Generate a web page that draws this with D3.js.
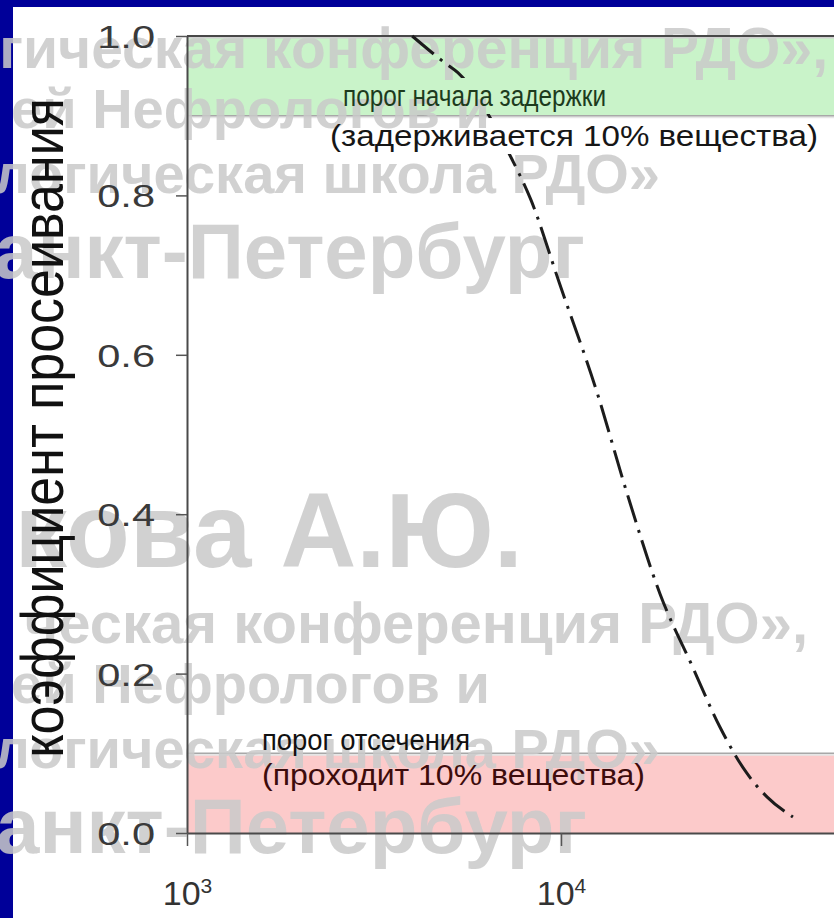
<!DOCTYPE html>
<html>
<head>
<meta charset="utf-8">
<script src="https://cdn.jsdelivr.net/npm/d3@7"></script>
<style>
  html, body { margin: 0; padding: 0; background: #fff; }
  svg { display: block; }
</style>
</head>
<body>
<svg id="chart" width="834" height="918"></svg>
<script>
// Sieving coefficient vs molecular mass (log scale)
const moleculeMass = [4000, 4900, 5300, 7400, 8300, 9900, 12500, 15000, 18400, 22500, 26600, 31400, 35600, 41700];
const sievingCoef  = [1.0, 0.966, 0.954, 0.845, 0.795, 0.69, 0.552, 0.427, 0.30, 0.208, 0.133, 0.075, 0.045, 0.02];

const yTicks = [0, 0.2, 0.4, 0.6, 0.8, 1.0];
const xTicks = [1e3, 1e4];

// threshold zones: retention onset (top) and cut-off (bottom)
const zoneLow  = [0.9, 0.0];
const zoneHigh = [1.0, 0.1];
const retentionLabel = ["порог начала задержки", "(задерживается 10% вещества)"];
const cutoffLabel    = ["порог отсечения", "(проходит 10% вещества)"];
const yTitle = "коэффициент просеивания";

// faint stamp text across the slide
const stampLines = [
  "гическая конференция РДО»,",
  "ей Нефрологов и",
  "логическая школа РДО»",
  "анкт-Петербург",
  "кова А.Ю.",
  "ческая конференция РДО»,",
  "ей Нефрологов и",
  "логическая школа РДО»",
  "анкт-Петербург"
];

// ---- layout ----
const W = 834, H = 918;
const frame = { left: 187, top: 36, bottom: 833, decade: 374 };
const FONT = "'Liberation Sans', Arial, Helvetica, sans-serif";

const svg = d3.select("#chart");
const x = d3.scaleLog().domain([1e3, 1e5]).range([frame.left, frame.left + 2 * frame.decade]);
const y = d3.scaleLinear().domain([0, 1]).range([frame.bottom, frame.top]);

// slide background with blue border
svg.append("rect").attr("width", W).attr("height", H).attr("fill", "#000099");
svg.append("rect").attr("x", 13).attr("y", 7).attr("width", W - 13).attr("height", H - 7).attr("fill", "#ffffff");

const gZones = svg.append("g");
const gStamp = svg.append("g");
const gAxes = svg.append("g");
const gCurve = svg.append("g");
const gLabels = svg.append("g");
const defs = svg.append("defs");

// zones
const zoneFill = ["#c9f3c9", "#fccaca"];
zoneLow.forEach((lo, i) => {
  const hi = zoneHigh[i];
  gZones.append("rect")
    .attr("x", frame.left).attr("width", W - frame.left)
    .attr("y", y(hi)).attr("height", y(lo) - y(hi))
    .attr("fill", zoneFill[i]);
  const edge = i === 0 ? lo : hi;
  gZones.append("line")
    .attr("x1", frame.left).attr("x2", W)
    .attr("y1", y(edge) + 1.5).attr("y2", y(edge) + 1.5)
    .attr("stroke", "#e6e6e6").attr("stroke-width", 2);
  gZones.append("line")
    .attr("x1", frame.left).attr("x2", W)
    .attr("y1", y(edge)).attr("y2", y(edge))
    .attr("stroke", "#a8a8a8").attr("stroke-width", 1.5);
});

// stamp text
const stampLayout = [
  [828, 68, 57], [490, 128, 56], [660, 193, 56], [585, 278, 78], [523, 567, 105],
  [808, 643, 58], [490, 703, 56], [660, 768, 56], [587, 853, 78]
];
gStamp.attr("fill", "#cacaca").attr("opacity", 0.85)
  .attr("font-family", FONT).attr("font-weight", "bold");
stampLines.forEach((t, i) => {
  const [ex, by, fs] = stampLayout[i];
  gStamp.append("text").attr("x", ex).attr("y", by)
    .attr("text-anchor", "end").attr("font-size", fs).text(t);
});

// frame top edge
gAxes.append("line")
  .attr("x1", frame.left).attr("x2", W)
  .attr("y1", y(1) + 1.5).attr("y2", y(1) + 1.5)
  .attr("stroke", "#d0d0d0").attr("stroke-width", 2);
gAxes.append("line")
  .attr("x1", frame.left).attr("x2", W)
  .attr("y1", y(1)).attr("y2", y(1))
  .attr("stroke", "#484848").attr("stroke-width", 2);

// y axis
const yAxis = gAxes.append("g")
  .attr("transform", `translate(${frame.left},0)`)
  .call(d3.axisLeft(y).tickValues(yTicks).tickFormat(d3.format(".1f"))
    .tickSize(11).tickSizeOuter(0).tickPadding(13.6));
yAxis.select(".domain").attr("stroke", "#4a4a4a").attr("stroke-width", 2);
yAxis.selectAll(".tick line").attr("stroke", "#555").attr("stroke-width", 1.5);
yAxis.selectAll(".tick text")
  .attr("font-family", FONT).attr("font-size", 32).attr("fill", "#3a3a3a")
  .attr("dy", "0.36em").attr("transform", "scale(1.3,1)");

// x axis (log)
const xAxis = gAxes.append("g")
  .attr("transform", `translate(0,${frame.bottom})`)
  .call(d3.axisBottom(x).tickValues(xTicks).tickFormat(() => "")
    .tickSize(13).tickSizeOuter(0));
xAxis.select(".domain").attr("stroke", "#4a4a4a").attr("stroke-width", 2);
xAxis.selectAll(".tick line").attr("stroke", "#555").attr("stroke-width", 1.5);
xAxis.selectAll(".tick text").each(function (d) {
  const t = d3.select(this).text(null)
    .attr("y", 72).attr("dy", 0)
    .attr("font-family", FONT).attr("fill", "#333").attr("font-size", 34);
  t.append("tspan").text("10");
  t.append("tspan").attr("dy", -12).attr("font-size", 21).text(Math.round(Math.log10(d)));
});

// y title
svg.append("text")
  .attr("transform", "translate(63,428) scale(1.15,1) rotate(-90)")
  .attr("text-anchor", "middle")
  .attr("font-family", FONT).attr("font-size", 52).attr("fill", "#111")
  .text(yTitle);

// zone labels
const labelSpecs = [
  { t: retentionLabel[0], x: 343, y: 106, len: 263, fill: "#1d3b1d", hide: true },
  { t: retentionLabel[1], x: 330, y: 146, len: 488, fill: "#161616", hide: true },
  { t: cutoffLabel[0],    x: 262, y: 750, len: 208, fill: "#111111", hide: false },
  { t: cutoffLabel[1],    x: 262, y: 785, len: 383, fill: "#3d0c0c", hide: false }
];
const labelNodes = labelSpecs.map(s =>
  gLabels.append("text")
    .attr("x", s.x).attr("y", s.y)
    .attr("font-family", FONT).attr("font-size", 29).attr("fill", s.fill)
    .attr("textLength", s.len).attr("lengthAdjust", "spacingAndGlyphs")
    .text(s.t)
);

// curve hidden behind the upper label block
const mask = defs.append("mask").attr("id", "labelKnockout")
  .attr("maskUnits", "userSpaceOnUse")
  .attr("x", 0).attr("y", 0).attr("width", W).attr("height", H);
mask.append("rect").attr("width", W).attr("height", H).attr("fill", "white");
labelSpecs.forEach((s, i) => {
  if (!s.hide) return;
  const b = labelNodes[i].node().getBBox();
  mask.append("rect")
    .attr("x", b.x - 4).attr("y", b.y - 2)
    .attr("width", b.width + 8).attr("height", b.height + 4)
    .attr("fill", "black");
});

const points = moleculeMass.map((m, i) => ({ m, s: sievingCoef[i] }));
const line = d3.line().x(d => x(d.m)).y(d => y(d.s)).curve(d3.curveMonotoneX);
gCurve.append("path")
  .datum(points)
  .attr("d", line)
  .attr("fill", "none")
  .attr("stroke", "#1c1c1c")
  .attr("stroke-width", 3)
  .attr("stroke-dasharray", "28 8 3 8")
  .attr("mask", "url(#labelKnockout)");
</script>
</body>
</html>
